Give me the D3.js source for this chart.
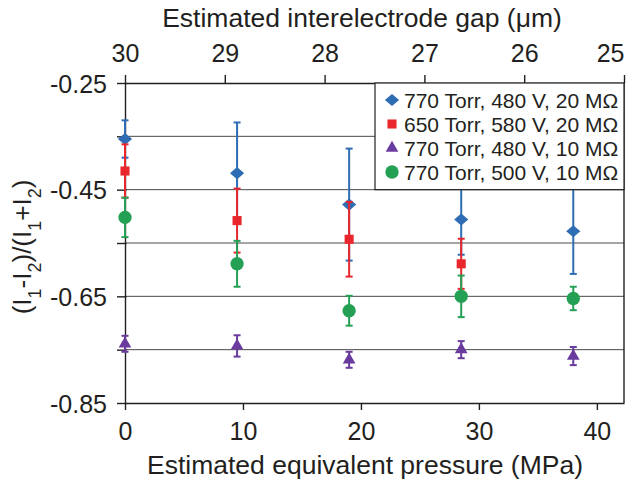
<!DOCTYPE html>
<html><head><meta charset="utf-8">
<script src="https://cdn.jsdelivr.net/npm/d3@7"></script>
<style>body{margin:0;background:#fff}svg{display:block;font-family:"Liberation Sans",Arial,sans-serif}</style>
</head><body><svg id="c" width="626" height="484"></svg>
<script>
const pressures = [0, 9.5, 19, 28.5, 38];
const seriesNames = ["770 Torr, 480 V, 20 MΩ","650 Torr, 580 V, 20 MΩ","770 Torr, 480 V, 10 MΩ","770 Torr, 500 V, 10 MΩ"];
const seriesColors = ["#2e6db4","#e8262b","#6b3a9e","#24a055"];
const seriesShapes = ["diamond","square","triangle","circle"];
const blueVals  = [-0.355,-0.419,-0.478,-0.506,-0.528];
const blueErr   = [0.035, 0.095, 0.105, 0.066, 0.080];
const redVals   = [-0.415,-0.508,-0.543,-0.589,null];
const redErr    = [0.050, 0.060, 0.070, 0.047, null];
const purpleVals= [-0.739,-0.743,-0.769,-0.750,-0.762];
const purpleErr = [0.015, 0.020, 0.015, 0.016, 0.017];
const greenVals = [-0.502,-0.589,-0.677,-0.650,-0.654];
const greenErr  = [0.037, 0.043, 0.028, 0.039, 0.022];
const bottomTicks = [0,10,20,30,40];
const topTicks = [30,29,28,27,26,25];
const yTicks = [-0.25,-0.35,-0.45,-0.55,-0.65,-0.75,-0.85];
const yLabels = [-0.25,-0.45,-0.65,-0.85];
const gridVals = [-0.35,-0.45,-0.55,-0.65,-0.75];

const values = [blueVals, redVals, purpleVals, greenVals];
const errs = [blueErr, redErr, purpleErr, greenErr];

const L=125, R=624, T=83, B=403;
const ink="#231f20";
const svg=d3.select("#c");
const x=d3.scaleLinear().domain([0,42.3]).range([L,R]);
const xTop=d3.scaleLinear().domain([30,25]).range([L,R]);
const y=d3.scaleLinear().domain([-0.85,-0.25]).range([B,T]);

// gridlines
svg.append("g").selectAll("line").data(gridVals).join("line")
  .attr("x1",L).attr("x2",R).attr("y1",d=>y(d)).attr("y2",d=>y(d))
  .attr("stroke","#4a4a4a").attr("stroke-width",1);

// axes
function styleAxis(g){
  g.select(".domain").attr("stroke",ink).attr("stroke-width",1.4);
  g.selectAll(".tick line").attr("stroke",ink).attr("stroke-width",1.4);
  g.selectAll(".tick text").attr("fill",ink).style("font-size","25px").style("font-family","'Liberation Sans',Arial,sans-serif");
}
svg.append("g").attr("transform",`translate(0,${B})`)
  .call(d3.axisBottom(x).tickValues(bottomTicks).tickSize(7).tickSizeOuter(0).tickPadding(12).tickFormat(d3.format("d")))
  .call(styleAxis);
svg.append("g").attr("transform",`translate(0,${T})`)
  .call(d3.axisTop(xTop).tickValues(topTicks).tickSize(8).tickSizeOuter(0).tickPadding(13).tickFormat(d3.format("d")))
  .call(styleAxis)
  .call(g=>g.selectAll(".tick text").filter(d=>d===25).attr("text-anchor","end").attr("x",0));
svg.append("g").attr("transform",`translate(${L},0)`)
  .call(d3.axisLeft(y).tickValues(yTicks).tickSize(8).tickSizeOuter(0).tickPadding(10)
    .tickFormat(d=>yLabels.some(v=>Math.abs(v-d)<1e-9)?d3.format(".2f")(d).replace("−","-"):""))
  .call(styleAxis)
  .call(g=>g.selectAll(".tick text").attr("dy","0.36em"))
  .call(g=>g.selectAll(".tick line").attr("x2",-8).attr("x1",1.5));
// right border
svg.append("line").attr("x1",R).attr("x2",R).attr("y1",T).attr("y2",B).attr("stroke",ink).attr("stroke-width",1.4);

// error bars + markers
const sym={diamond:d3.symbolDiamond2,square:d3.symbolSquare2,triangle:d3.symbolTriangle2,circle:d3.symbolCircle};
const sizes={diamond:110,square:105,triangle:115,circle:140};
const plot=svg.append("g");
values.forEach((vals,si)=>{
  const pts=pressures.map((p,i)=>({p,v:vals[i],e:errs[si][i]})).filter(d=>d.v!=null);
  const g=plot.append("g");
  g.selectAll(".eb").data(pts).join("line")
    .attr("x1",d=>x(d.p)).attr("x2",d=>x(d.p)).attr("y1",d=>y(d.v-d.e)).attr("y2",d=>y(d.v+d.e))
    .attr("stroke",seriesColors[si]).attr("stroke-width",2);
  [1,-1].forEach(s=>{
    g.selectAll(".cap"+s).data(pts).join("line")
      .attr("x1",d=>x(d.p)-3.5).attr("x2",d=>x(d.p)+3.5).attr("y1",d=>y(d.v+s*d.e)).attr("y2",d=>y(d.v+s*d.e))
      .attr("stroke",seriesColors[si]).attr("stroke-width",2);
  });
  g.selectAll("path").data(pts).join("path")
    .attr("transform",d=>`translate(${x(d.p)},${y(d.v)})`+(seriesShapes[si]==="diamond"?" scale(1.08,0.92)":""))
    .attr("d",d3.symbol().type(sym[seriesShapes[si]]).size(sizes[seriesShapes[si]]))
    .attr("fill",seriesColors[si]);
});

// legend
const lg=svg.append("g");
lg.append("rect").attr("x",375).attr("y",T).attr("width",R-375).attr("height",y(-0.45)-T)
  .attr("fill","#fff").attr("stroke",ink).attr("stroke-width",1.2);
seriesNames.forEach((n,i)=>{
  const yy=T+17+i*24;
  lg.append("path").attr("transform",`translate(392,${yy})`+(seriesShapes[i]==="diamond"?" scale(1.08,0.92)":""))
    .attr("d",d3.symbol().type(sym[seriesShapes[i]]).size(sizes[seriesShapes[i]])).attr("fill",seriesColors[i]);
  lg.append("text").attr("x",404).attr("y",yy).attr("dy","0.36em").attr("fill",ink)
    .style("font-size","21px").text(n);
});

// titles
svg.append("text").attr("x",365).attr("y",474).attr("text-anchor","middle").attr("fill",ink)
  .style("font-size","26.5px").text("Estimated equivalent pressure (MPa)");
svg.append("text").attr("x",362).attr("y",27).attr("text-anchor","middle").attr("fill",ink)
  .style("font-size","26.5px").text("Estimated interelectrode gap (μm)");
const yt=svg.append("text").attr("transform","translate(31,247) rotate(-90)").attr("text-anchor","middle")
  .attr("fill",ink).style("font-size","26px");
const parts=[["(I",0],["1",1],["-I",0],["2",1],[")/(I",0],["1",1],["+I",0],["2",1],[")",0]];
parts.forEach(([t,s])=>{
  const sp=yt.append("tspan").text(t);
  if(s) sp.attr("baseline-shift","sub").style("font-size","18px");
});
</script></body></html>
